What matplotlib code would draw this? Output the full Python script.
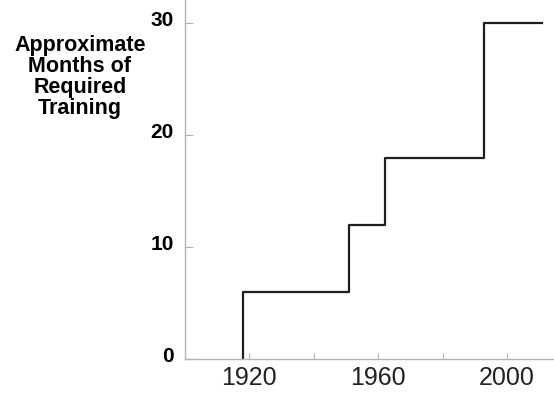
import matplotlib
matplotlib.use("Agg")
import matplotlib.pyplot as plt
import matplotlib.transforms as mtransforms

# step data: year when the requirement changed, months of training required
years = [1918, 1918, 1951, 1962, 1993, 2011]
months = [0, 6, 12, 18, 30, 30]

x_ticks = [1920, 1940, 1960, 1980, 2000]
x_labels = ["1920", "", "1960", "", "2000"]
y_ticks = [0, 10, 20, 30]
y_title = "Approximate\nMonths of\nRequired\nTraining"

plt.rcParams['font.family'] = ['Liberation Sans', 'DejaVu Sans']

fig = plt.figure(figsize=(5.54, 3.98), dpi=100)
ax = fig.add_axes([185 / 554, 39 / 398, 369 / 554, 359 / 398])

ax.step(years, months, where='post', color='#1e1e1e', linewidth=1.6)

ax.set_xlim(1900, 2014.6)
ax.set_ylim(0, 32.1)

for side in ['top', 'right']:
    ax.spines[side].set_visible(False)
for side in ['left', 'bottom']:
    ax.spines[side].set_color('#b4b4b4')
    ax.spines[side].set_linewidth(1.0)

ax.set_xticks(x_ticks)
ax.set_xticklabels(x_labels, fontsize=18, color='#222222')
ax.set_yticks(y_ticks)
ax.set_yticklabels([str(v) for v in y_ticks], fontsize=15, fontweight='bold')
ax.tick_params(axis='x', direction='in', length=4, color='#b4b4b4', pad=5)
ax.tick_params(axis='y', direction='in', length=6, color='#b4b4b4', pad=8)

# y labels sit a little above their ticks in the original
shift = mtransforms.ScaledTranslation(0, 3.3 / 72, fig.dpi_scale_trans)
for lab in ax.get_yticklabels():
    lab.set_transform(lab.get_transform() + shift)

fig.text(80 / 554, 1 - 77 / 398, y_title, ha='center', va='center',
         fontsize=15.5, fontweight='bold', linespacing=0.98)

fig.savefig("out.png", dpi=100)
